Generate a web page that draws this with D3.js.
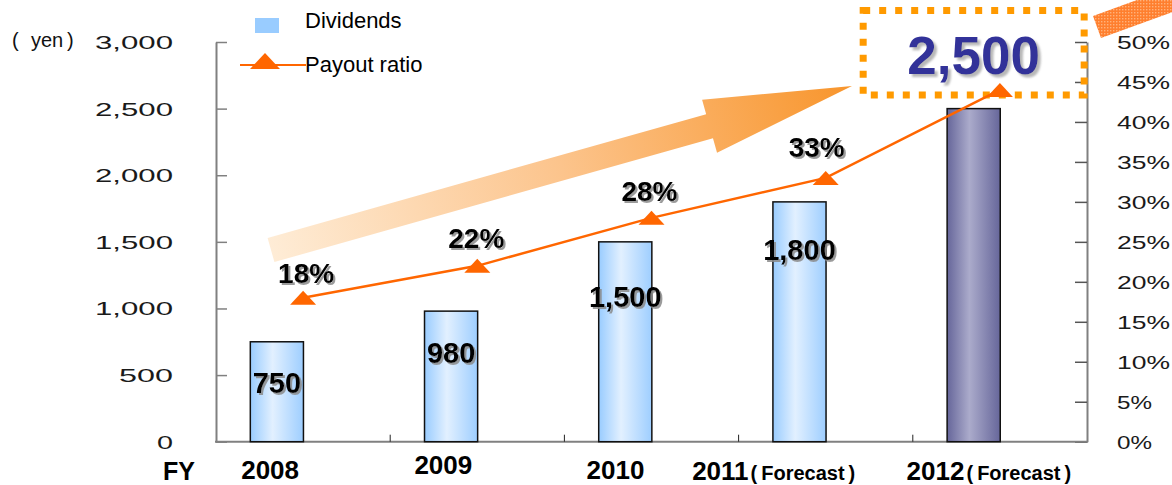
<!DOCTYPE html>
<html>
<head>
<meta charset="utf-8">
<script src="https://cdn.jsdelivr.net/npm/d3@7"></script>
<style>
  body { margin: 0; background: #fff; }
  svg { display: block; font-family: "Liberation Sans", Arial, sans-serif; }
</style>
</head>
<body>
<svg id="chart" width="1172" height="485"></svg>
<script>
// ---- data ----
const years = ["2008", "2009", "2010", "2011", "2012"];
const yearNotes = ["", "", "", "Forecast", "Forecast"];
const dividends = [750, 980, 1500, 1800, 2500];
const payoutRatio = [18, 22, 28, 33, 44];
const payoutLabels = ["18%", "22%", "28%", "33%", ""];
const yenTicks = [0, 500, 1000, 1500, 2000, 2500, 3000];
const pctTicks = [0, 5, 10, 15, 20, 25, 30, 35, 40, 45, 50];

// ---- layout ----
const plot = { left: 216, right: 1087, top: 42, bottom: 441.7 };
const yearLabelNudge = [[-33, 0], [-34, -5], [-36, 0], [-52, 1], [-11, 1]];
const valueLabelDrop = [51, 52, 65, 58];
const pctLabelNudge = [[3, -15], [-1, -18], [-2, -17], [-9, -21]];

const svg = d3.select("#chart");
const x = d3.scaleBand().domain(years).range([plot.left, plot.right]).padding(0);
const bw = x.bandwidth();
const yYen = d3.scaleLinear().domain([0, 3000]).range([plot.bottom, plot.top]);
const yPct = d3.scaleLinear().domain([0, 50]).range([plot.bottom, plot.top]);
const barX = d => x(d) + bw * 0.197;
const barW = bw * 0.305;
const cx = d => x(d) + bw / 2;

// ---- defs ----
const defs = svg.append("defs");
function hGrad(id, edge, mid, edge2) {
  const g = defs.append("linearGradient").attr("id", id)
    .attr("x1", 0).attr("x2", 1).attr("y1", 0).attr("y2", 0);
  g.append("stop").attr("offset", "0%").attr("stop-color", edge);
  g.append("stop").attr("offset", "42%").attr("stop-color", mid);
  g.append("stop").attr("offset", "100%").attr("stop-color", edge2);
}
hGrad("barBlue", "#99CCFF", "#E2F0FF", "#9ECEFF");
hGrad("barSlate", "#66669A", "#ABABCB", "#66669A");

const shadow = defs.append("filter").attr("id", "shadow")
  .attr("x", "-10%").attr("y", "-10%").attr("width", "130%").attr("height", "140%");
shadow.append("feDropShadow").attr("dx", 2).attr("dy", 2).attr("stdDeviation", 0.6)
  .attr("flood-color", "#8a8a8a").attr("flood-opacity", 0.85);
const shadowLight = defs.append("filter").attr("id", "shadowLight")
  .attr("x", "-10%").attr("y", "-10%").attr("width", "130%").attr("height", "140%");
shadowLight.append("feDropShadow").attr("dx", 3).attr("dy", 3).attr("stdDeviation", 0.8)
  .attr("flood-color", "#b0b0b0").attr("flood-opacity", 0.9);

const dots = defs.append("pattern").attr("id", "dots")
  .attr("width", 3).attr("height", 3).attr("patternUnits", "userSpaceOnUse");
dots.append("rect").attr("width", 3).attr("height", 3).attr("fill", "#FF7F2E");
dots.append("rect").attr("width", 1.4).attr("height", 1.4).attr("fill", "#FFB27A");

// ---- growth arrow ----
const tail = [271, 250], tip = [852, 86];
const len = Math.hypot(tip[0] - tail[0], tip[1] - tail[1]);
const u = [(tip[0] - tail[0]) / len, (tip[1] - tail[1]) / len];
const p = [-u[1], u[0]];
const shaftHalf = 12.5, headHalf = 27.5, headLen = 148;
const base = [tip[0] - u[0] * headLen, tip[1] - u[1] * headLen];
const off = (pt, k) => [pt[0] + p[0] * k, pt[1] + p[1] * k];
const arrowPts = [off(tail, -shaftHalf), off(base, -shaftHalf), off(base, -headHalf), tip,
  off(base, headHalf), off(base, shaftHalf), off(tail, shaftHalf)];
const ag = defs.append("linearGradient").attr("id", "arrowGrad")
  .attr("gradientUnits", "userSpaceOnUse")
  .attr("x1", tail[0]).attr("y1", tail[1]).attr("x2", tip[0]).attr("y2", tip[1]);
ag.append("stop").attr("offset", "0%").attr("stop-color", "#FEECD6");
ag.append("stop").attr("offset", "50%").attr("stop-color", "#FCC48C");
ag.append("stop").attr("offset", "100%").attr("stop-color", "#F8952C");
svg.append("polygon").attr("points", arrowPts.map(d => d.join(",")).join(" "))
  .attr("fill", "url(#arrowGrad)");

// corner band (top right)
const ang = -20 * Math.PI / 180;
const v = [Math.cos(ang), Math.sin(ang)];
const bandA = [1093, 16], bandB = [1101, 38];
const bandPts = [bandA, [bandA[0] + v[0] * 130, bandA[1] + v[1] * 130],
  [bandB[0] + v[0] * 130, bandB[1] + v[1] * 130], bandB];
svg.append("polygon").attr("points", bandPts.map(d => d.join(",")).join(" "))
  .attr("fill", "url(#dots)");

// ---- axes ----
const axisGray = "#808080";
const tickLabelWidth = s => s.split("").reduce((w, c) =>
  w + (c === "," ? 6 : c === "%" ? 17 : 18), 0) - (s.length === 1 ? 2 : 0);

const gL = svg.append("g").attr("transform", `translate(${plot.left},0)`)
  .call(d3.axisLeft(yYen).tickValues(yenTicks).tickSize(-11).tickSizeOuter(0)
    .tickFormat(d3.format(",")));
gL.select(".domain").attr("stroke", axisGray).attr("stroke-width", 2);
gL.selectAll(".tick line").attr("stroke", axisGray).attr("stroke-width", 1.5);
gL.selectAll(".tick text")
  .attr("x", -43).attr("dy", "0.36em")
  .attr("font-size", 18).attr("font-family", "Liberation Sans, Arial, sans-serif")
  .attr("fill", "#1a1a1a").attr("text-anchor", "end")
  .attr("lengthAdjust", "spacingAndGlyphs")
  .attr("textLength", function () { return tickLabelWidth(this.textContent); });

const gR = svg.append("g").attr("transform", `translate(${plot.right},0)`)
  .call(d3.axisRight(yPct).tickValues(pctTicks).tickSize(-12).tickSizeOuter(0)
    .tickFormat(d => d + "%"));
gR.select(".domain").attr("stroke", axisGray).attr("stroke-width", 2);
gR.selectAll(".tick line").attr("stroke", "#555").attr("stroke-width", 1.5);
gR.selectAll(".tick text")
  .attr("x", 30).attr("dy", "0.36em")
  .attr("font-size", 18).attr("font-family", "Liberation Sans, Arial, sans-serif")
  .attr("fill", "#1a1a1a").attr("text-anchor", "start")
  .attr("lengthAdjust", "spacingAndGlyphs")
  .attr("textLength", function () { return tickLabelWidth(this.textContent); });

// category axis
svg.append("line").attr("x1", plot.left - 1).attr("x2", plot.right + 1)
  .attr("y1", plot.bottom).attr("y2", plot.bottom)
  .attr("stroke", axisGray).attr("stroke-width", 2);
svg.selectAll(".cat-tick").data(years.slice(1)).join("line")
  .attr("class", "cat-tick")
  .attr("x1", d => x(d)).attr("x2", d => x(d))
  .attr("y1", plot.bottom).attr("y2", plot.bottom - 7)
  .attr("stroke", "#222").attr("stroke-width", 1);

// ---- bars ----
svg.selectAll(".bar").data(years).join("rect")
  .attr("class", "bar")
  .attr("x", d => barX(d))
  .attr("width", barW)
  .attr("y", (d, i) => yYen(dividends[i]))
  .attr("height", (d, i) => plot.bottom - yYen(dividends[i]))
  .attr("fill", (d, i) => i === years.length - 1 ? "url(#barSlate)" : "url(#barBlue)")
  .attr("stroke", "#111").attr("stroke-width", 1.5);

// ---- highlight box for the forecast dividend ----
const last = years.length - 1;
const boxCx = barX(years[last]) + barW / 2;
const boxW = 221, boxTop = 10.5, boxBottom = yYen(dividends[last]) - 13.5;
svg.append("rect")
  .attr("x", boxCx - boxW / 2).attr("y", boxTop)
  .attr("width", boxW).attr("height", boxBottom - boxTop)
  .attr("fill", "none").attr("stroke", "#FF9A00")
  .attr("stroke-width", 7).attr("stroke-dasharray", "7 9");
svg.append("text")
  .attr("x", boxCx).attr("y", 74)
  .attr("text-anchor", "middle")
  .attr("font-size", 53).attr("font-weight", "bold")
  .attr("fill", "#333399").attr("filter", "url(#shadowLight)")
  .text(d3.format(",")(dividends[last]));

// ---- payout ratio line ----
const line = d3.line().x((d, i) => cx(years[i])).y(d => yPct(d));
svg.append("path").datum(payoutRatio)
  .attr("d", line).attr("fill", "none")
  .attr("stroke", "#FF6600").attr("stroke-width", 2.5);
svg.selectAll(".marker").data(payoutRatio).join("path")
  .attr("class", "marker")
  .attr("transform", (d, i) => `translate(${cx(years[i])},${yPct(d)})`)
  .attr("d", "M0,-7L13,7L-13,7Z")
  .attr("fill", "#FF6600");

// ---- labels ----
svg.selectAll(".pct-label").data(payoutLabels.filter(s => s)).join("text")
  .attr("class", "pct-label")
  .attr("x", (d, i) => cx(years[i]) + pctLabelNudge[i][0])
  .attr("y", (d, i) => yPct(payoutRatio[i]) + pctLabelNudge[i][1])
  .attr("text-anchor", "middle")
  .attr("font-size", 28).attr("font-weight", "bold").attr("fill", "#000")
  .attr("filter", "url(#shadow)")
  .text(d => d);

svg.selectAll(".val-label").data(dividends.slice(0, last)).join("text")
  .attr("class", "val-label")
  .attr("x", (d, i) => barX(years[i]) + barW / 2)
  .attr("y", (d, i) => yYen(d) + valueLabelDrop[i])
  .attr("text-anchor", "middle")
  .attr("font-size", 29).attr("font-weight", "bold").attr("fill", "#000")
  .attr("filter", "url(#shadow)")
  .text(d => d3.format(",")(d));

// year labels
svg.append("text").attr("x", 163).attr("y", 480)
  .attr("font-size", 25).attr("font-weight", "bold").text("FY");
const yl = svg.selectAll(".year-label").data(years).join("text")
  .attr("class", "year-label")
  .attr("x", (d, i) => cx(d) + yearLabelNudge[i][0])
  .attr("y", (d, i) => 479 + yearLabelNudge[i][1])
  .attr("text-anchor", "middle")
  .attr("font-weight", "bold").attr("fill", "#000");
yl.append("tspan").attr("font-size", 26).text(d => d);
yl.filter((d, i) => yearNotes[i]).each(function (d) {
  const t = d3.select(this);
  const note = yearNotes[years.indexOf(d)];
  t.append("tspan").attr("font-size", 20).attr("dx", 2).text("(");
  t.append("tspan").attr("font-size", 20).attr("dx", 4).text(note);
  t.append("tspan").attr("font-size", 20).attr("dx", 4).text(")");
});

// unit label
const unit = svg.append("text").attr("y", 47).attr("font-size", 20).attr("fill", "#111");
unit.append("tspan").attr("x", 12).text("(");
unit.append("tspan").attr("x", 31).text("yen");
unit.append("tspan").attr("x", 67).text(")");

// ---- legend ----
const lg = svg.append("g");
lg.append("rect").attr("x", 255).attr("y", 18).attr("width", 24).attr("height", 15)
  .attr("fill", "#99CCFF");
lg.append("text").attr("x", 305).attr("y", 28).attr("font-size", 22).attr("fill", "#000")
  .text("Dividends");
lg.append("line").attr("x1", 240).attr("x2", 306).attr("y1", 65).attr("y2", 65)
  .attr("stroke", "#FF6600").attr("stroke-width", 2);
lg.append("path").attr("transform", "translate(265,61)")
  .attr("d", "M0,-8L15,8L-15,8Z").attr("fill", "#FF6600");
lg.append("text").attr("x", 305).attr("y", 72).attr("font-size", 22).attr("fill", "#000")
  .text("Payout ratio");
</script>
</body>
</html>
